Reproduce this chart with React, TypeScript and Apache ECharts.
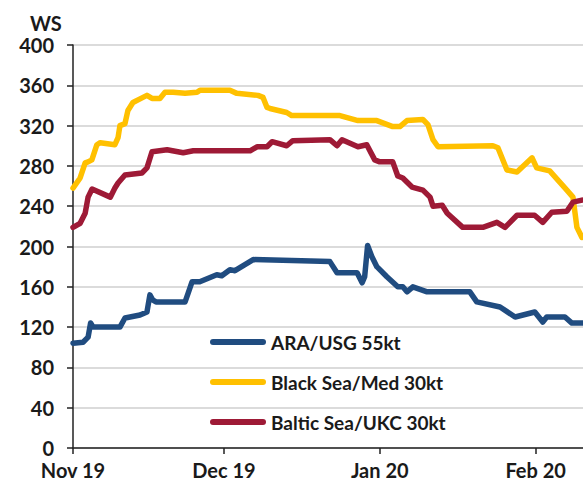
import React, { useEffect, useRef } from "react";
import * as echarts from "echarts";

const seriesNames = ["ARA/USG 55kt", "Black Sea/Med 30kt", "Baltic Sea/UKC 30kt"];
const seriesColors = ["#204c80", "#ffc000", "#9e1a36"];

const araUsg: [string, number][] = [
  ["2019-11-01 00:00", 104], ["2019-11-03 00:00", 105], ["2019-11-04 00:00", 110],
  ["2019-11-04 12:00", 124], ["2019-11-05 00:00", 120], ["2019-11-10 08:00", 120],
  ["2019-11-11 08:00", 129], ["2019-11-12 08:00", 130], ["2019-11-14 08:00", 132],
  ["2019-11-15 17:00", 135], ["2019-11-16 07:00", 152], ["2019-11-16 20:00", 147],
  ["2019-11-17 12:00", 145], ["2019-11-23 07:00", 145], ["2019-11-23 22:00", 154],
  ["2019-11-24 16:00", 165], ["2019-11-26 05:00", 165], ["2019-11-29 14:00", 172],
  ["2019-11-30 14:00", 171], ["2019-12-02 05:00", 177], ["2019-12-03 05:00", 176],
  ["2019-12-06 20:00", 187], ["2019-12-22 02:00", 185], ["2019-12-23 12:00", 174],
  ["2019-12-27 12:00", 174], ["2019-12-28 12:00", 164], ["2019-12-29 00:00", 170],
  ["2019-12-29 14:00", 201], ["2019-12-30 10:00", 190], ["2019-12-31 10:00", 180],
  ["2020-01-02 10:00", 170], ["2020-01-04 14:00", 160], ["2020-01-05 14:00", 160],
  ["2020-01-06 10:00", 155], ["2020-01-07 14:00", 160], ["2020-01-10 10:00", 155],
  ["2020-01-18 22:00", 155], ["2020-01-20 07:00", 145], ["2020-01-24 22:00", 140],
  ["2020-01-27 22:00", 130], ["2020-01-31 20:00", 135], ["2020-02-02 10:00", 125],
  ["2020-02-03 05:00", 130], ["2020-02-06 20:00", 130], ["2020-02-08 05:00", 124],
  ["2020-02-10 10:00", 124],
];

const blackSeaMed: [string, number][] = [
  ["2019-11-01 00:00", 258], ["2019-11-02 10:00", 268], ["2019-11-03 10:00", 283],
  ["2019-11-04 00:00", 284], ["2019-11-04 18:00", 286], ["2019-11-05 18:00", 301],
  ["2019-11-06 10:00", 303], ["2019-11-09 08:00", 301], ["2019-11-09 23:00", 308],
  ["2019-11-10 08:00", 320], ["2019-11-11 08:00", 322], ["2019-11-11 22:00", 335],
  ["2019-11-12 22:00", 343], ["2019-11-14 22:00", 348], ["2019-11-15 17:00", 350],
  ["2019-11-16 17:00", 347], ["2019-11-18 07:00", 347], ["2019-11-19 07:00", 353],
  ["2019-11-20 22:00", 353], ["2019-11-23 07:00", 352], ["2019-11-25 16:00", 353],
  ["2019-11-26 06:00", 355], ["2019-12-02 05:00", 355], ["2019-12-03 14:00", 352],
  ["2019-12-07 19:00", 350], ["2019-12-08 19:00", 348], ["2019-12-09 14:00", 338],
  ["2019-12-10 04:00", 337], ["2019-12-13 12:00", 333], ["2019-12-14 12:00", 330],
  ["2019-12-24 02:00", 330], ["2019-12-27 16:00", 325], ["2019-12-31 10:00", 325],
  ["2020-01-03 14:00", 319], ["2020-01-05 00:00", 319], ["2020-01-06 10:00", 325],
  ["2020-01-09 14:00", 326], ["2020-01-10 14:00", 321], ["2020-01-11 14:00", 306],
  ["2020-01-12 14:00", 299], ["2020-01-23 12:00", 300], ["2020-01-24 12:00", 298],
  ["2020-01-26 07:00", 276], ["2020-01-28 07:00", 274], ["2020-01-31 07:00", 288],
  ["2020-02-01 05:00", 278], ["2020-02-03 19:00", 275], ["2020-02-07 05:00", 256],
  ["2020-02-08 10:00", 249], ["2020-02-09 05:00", 219], ["2020-02-10 05:00", 209],
];

const balticSeaUkc: [string, number][] = [
  ["2019-11-01 00:00", 219], ["2019-11-02 10:00", 223], ["2019-11-03 10:00", 233],
  ["2019-11-04 00:00", 249], ["2019-11-04 19:00", 257], ["2019-11-08 10:00", 249],
  ["2019-11-09 08:00", 258], ["2019-11-09 23:00", 263], ["2019-11-11 08:00", 271],
  ["2019-11-14 17:00", 273], ["2019-11-15 17:00", 278], ["2019-11-16 17:00", 294],
  ["2019-11-19 17:00", 296], ["2019-11-22 22:00", 293], ["2019-11-24 22:00", 295],
  ["2019-12-06 05:00", 295], ["2019-12-07 14:00", 299], ["2019-12-09 14:00", 299],
  ["2019-12-10 14:00", 304], ["2019-12-13 12:00", 300], ["2019-12-14 17:00", 305],
  ["2019-12-22 02:00", 306], ["2019-12-23 12:00", 300], ["2019-12-24 12:00", 306],
  ["2019-12-27 16:00", 299], ["2019-12-29 10:00", 301], ["2019-12-31 00:00", 286],
  ["2020-01-01 00:00", 284], ["2020-01-03 14:00", 284], ["2020-01-04 14:00", 270],
  ["2020-01-05 14:00", 268], ["2020-01-07 10:00", 259], ["2020-01-09 14:00", 256],
  ["2020-01-11 00:00", 249], ["2020-01-11 14:00", 240], ["2020-01-13 10:00", 241],
  ["2020-01-14 10:00", 233], ["2020-01-17 12:00", 219], ["2020-01-21 12:00", 219],
  ["2020-01-24 07:00", 224], ["2020-01-25 22:00", 219], ["2020-01-28 07:00", 231],
  ["2020-01-31 19:00", 231], ["2020-02-02 10:00", 224], ["2020-02-04 05:00", 234],
  ["2020-02-07 05:00", 235], ["2020-02-08 10:00", 244], ["2020-02-10 05:00", 246],
];

const monthTickDates = ["2019-11-01", "2019-12-01", "2020-01-01", "2020-02-01"];
const monthNames = ["Jan", "Feb", "Mar", "Apr", "May", "Jun", "Jul", "Aug", "Sep", "Oct", "Nov", "Dec"];
const xStart = "2019-11-01 00:00";
const xEnd = "2020-02-10 10:00";
const yMin = 0;
const yMax = 400;
const yStep = 40;
const yAxisTitle = "WS";

const toTime = (s: string) => {
  const [d, t] = s.split(" ");
  const [y, m, dd] = d.split("-").map(Number);
  const [hh, mm] = (t || "00:00").split(":").map(Number);
  return new Date(y, m - 1, dd, hh, mm).getTime();
};

const FONT = "Lato, 'Noto Sans', sans-serif";
const TEXT = "#1a1a1a";

export default function App() {
  const ref = useRef<HTMLDivElement>(null);
  useEffect(() => {
    if (!ref.current) return;
    const chart = echarts.init(ref.current, null, { renderer: "svg" });
    const allData = [araUsg, blackSeaMed, balticSeaUkc];
    const tickValues = monthTickDates.map((d) => toTime(d));
    chart.setOption({
      animation: false,
      backgroundColor: "#ffffff",
      textStyle: { fontFamily: FONT },
      grid: { left: 73, right: 0, top: 45, bottom: 37, containLabel: false },
      graphic: [
        {
          type: "text",
          left: 30,
          top: 13,
          style: { text: yAxisTitle, font: `bold 20px ${FONT}`, fill: TEXT },
        },
      ],
      legend: {
        orient: "vertical",
        left: 210,
        top: 332,
        padding: 0,
        itemWidth: 56,
        itemHeight: 6,
        itemGap: 20,
        icon: "path://M3,0 L53,0 A3,3 0 0 1 53,6 L3,6 A3,3 0 0 1 3,0 Z",
        textStyle: {
          fontFamily: FONT,
          fontWeight: "bold",
          fontSize: 19,
          color: TEXT,
          lineHeight: 20,
        },
        data: seriesNames,
      },
      xAxis: {
        type: "value",
        min: toTime(xStart),
        max: toTime(xEnd),
        axisLine: { show: true, onZero: false, lineStyle: { color: "#222", width: 1.5 } },
        axisTick: {
          show: true,
          length: 6,
          lineStyle: { color: "#222", width: 1.5 },
          customValues: tickValues,
        },
        axisLabel: {
          customValues: tickValues,
          margin: 12,
          fontFamily: FONT,
          fontWeight: "bold",
          fontSize: 20,
          color: TEXT,
          formatter: (v: number) => {
            const d = new Date(v);
            return `${monthNames[d.getMonth()]} ${String(d.getFullYear()).slice(2)}`;
          },
        },
        splitLine: { show: false },
      },
      yAxis: {
        type: "value",
        min: yMin,
        max: yMax,
        interval: yStep,
        axisLine: { show: true, lineStyle: { color: "#222", width: 1.5 } },
        axisTick: { show: true, length: 6, lineStyle: { color: "#222", width: 1.5 } },
        axisLabel: {
          margin: 19,
          fontFamily: FONT,
          fontWeight: "bold",
          fontSize: 20,
          color: TEXT,
        },
        splitLine: { show: true, lineStyle: { color: "#cfcfcf", width: 1.5 } },
      },
      series: seriesNames.map((name, i) => ({
        name,
        type: "line",
        showSymbol: false,
        symbol: "none",
        color: seriesColors[i],
        lineStyle: { width: 5.5, color: seriesColors[i], cap: "round", join: "round" },
        data: allData[i].map(([d, v]) => [toTime(d), v]),
      })),
    });
    return () => chart.dispose();
  }, []);
  return (
    <div
      ref={ref}
      style={{ position: "fixed", left: 0, top: 0, width: 583, height: 485 }}
    />
  );
}
